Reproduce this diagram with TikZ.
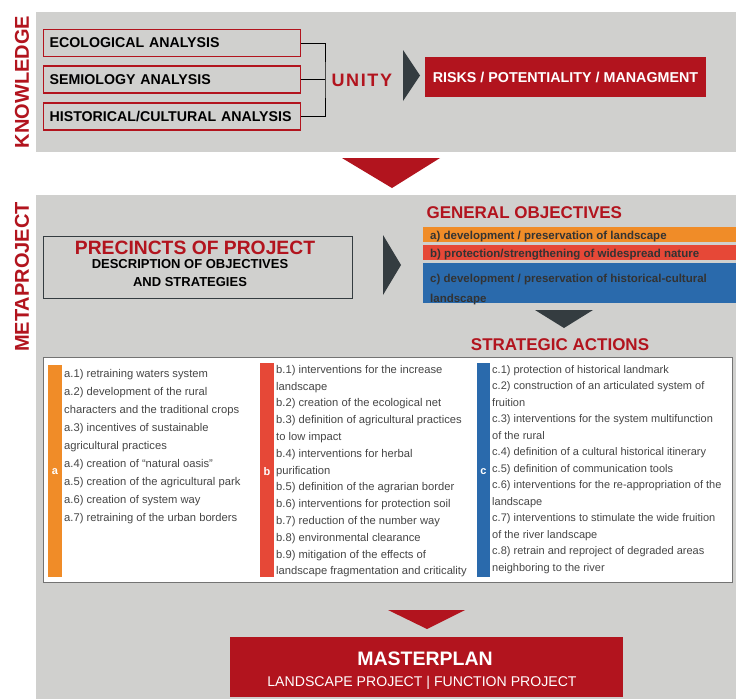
\documentclass[tikz,border=0pt]{standalone}
\usepackage{fontspec}
\setmainfont{Liberation Sans}
\usetikzlibrary{positioning}
\definecolor{panelgray}{RGB}{208,208,206}
\definecolor{krred}{RGB}{178,20,30}
\definecolor{barorange}{RGB}{240,140,40}
\definecolor{barred}{RGB}{230,72,55}
\definecolor{barblue}{RGB}{42,106,172}
\definecolor{darktri}{RGB}{52,60,64}
\definecolor{acttext}{RGB}{70,70,70}
\tikzset{>=latex}

\begin{document}
\begin{tikzpicture}[x=1pt,y=-1pt,
  anbox/.style={draw=krred,line width=1.2pt,fill=panelgray,anchor=west,minimum height=27pt,
    text width=245pt,inner xsep=6pt,align=left,font=\fontsize{14.2}{15}\selectfont\bfseries},
  sidelbl/.style={rotate=90,text=krred,font=\fontsize{20}{20}\selectfont\bfseries},
  bartext/.style={anchor=west,inner sep=0pt,text=black!80,align=left,font=\fontsize{11.5}{20}\selectfont\bfseries},
  acts/.style={anchor=north west,inner sep=0pt,align=left,text=acttext},
  heading/.style={text=krred,font=\fontsize{17}{17}\selectfont\bfseries},
  stripeletter/.style={text=white,font=\fontsize{11}{11}\selectfont\bfseries}]
\useasboundingbox (0,0) rectangle (736,699);
\fill[white] (0,0) rectangle (736,699);

% knowledge
\fill[panelgray] (36,12) rectangle (736,152);
\node[sidelbl] (lblknow) at (22,82) {KNOWLEDGE};
\node[anbox] (eco) at (43,43) {ECOLOGICAL ANALYSIS};
\node[anbox] (sem) at (43,79.5) {SEMIOLOGY ANALYSIS};
\node[anbox] (his) at (43,116.5) {HISTORICAL/CULTURAL ANALYSIS};
\coordinate (brk) at (325,80);
\draw[line width=1pt] (eco.east) -| (brk) |- (his.east);
\draw[line width=1pt] (sem.east) -- (sem.east -| brk);
\node[anchor=west,text=krred,font=\fontsize{18}{18}\selectfont\bfseries\addfontfeatures{LetterSpace=9}] (unity) at (328,80) {UNITY};
\fill[darktri] (403,50) -- (420,75.5) -- (403,101) -- cycle;
\node[fill=krred,text=white,minimum width=281pt,minimum height=40pt,font=\fontsize{14.3}{15}\selectfont\bfseries] (risks) at (565.5,77) {RISKS / POTENTIALITY / MANAGMENT};

\fill[krred] (342,158) -- (440,158) -- (392,188) -- cycle;

% metaproject
\fill[panelgray] (36,195) rectangle (736,699);
\node[sidelbl] (lblmeta) at (22,277) {METAPROJECT};
\node[draw=darktri,line width=1pt,fill=panelgray,minimum width=309pt,minimum height=62pt] (prec) at (197.5,267) {};
\node[text=krred,inner sep=0pt,font=\fontsize{19.3}{19}\selectfont\bfseries] (prectitle) at (195,248) {PRECINCTS OF PROJECT};
\node[anchor=north,inner sep=0pt,align=center,font=\fontsize{13}{18}\selectfont\bfseries] (precdesc) at (190,259) {DESCRIPTION OF OBJECTIVES\\AND STRATEGIES};
\fill[darktri] (383,235) -- (401,265) -- (383,295) -- cycle;

\node[heading,anchor=west] (genobj) at (423,213) {GENERAL OBJECTIVES};
\fill[barorange] (423,227) rectangle (736,242);
\fill[barred] (423,245) rectangle (736,260);
\fill[barblue] (423,263) rectangle (736,303);
\node[bartext] (obja) at (430,236.5) {a) development / preservation of landscape};
\node[bartext] (objb) at (430,254.5) {b) protection/strengthening of widespread nature};
\node[bartext,anchor=north west] (objc) at (430,274) {c) development / preservation of historical-cultural\\landscape};
\fill[darktri] (535,310) -- (593,310) -- (564,328) -- cycle;
\node[heading] (stract) at (560,345) {STRATEGIC ACTIONS};

% strategic actions
\draw[fill=white,draw=black!55,line width=1pt] (43,357) rectangle (732,582);
\fill[barorange] (48,365) rectangle (62,577);
\fill[barred] (260,363) rectangle (274,577);
\fill[barblue] (477,363) rectangle (490,577);
\node[stripeletter] (la) at (55,472) {a};
\node[stripeletter] (lb) at (267,472) {b};
\node[stripeletter] (lc) at (483.5,472) {c};
\node[acts,font=\fontsize{11.2}{18}\selectfont] (acta) at (64,369) {a.1) retraining waters system\\
a.2) development of the rural\\
characters and the traditional crops\\
a.3) incentives of sustainable\\
agricultural practices\\
a.4) creation of ``natural oasis''\\
a.5) creation of the agricultural park\\
a.6) creation of system way\\
a.7) retraining of the urban borders};
\node[acts,font=\fontsize{11.2}{16.8}\selectfont] (actb) at (276,365) {b.1) interventions for the increase\\
landscape\\
b.2) creation of the ecological net\\
b.3) definition of agricultural practices\\
to low impact\\
b.4) interventions for herbal\\
purification\\
b.5) definition of the agrarian border\\
b.6) interventions for protection soil\\
b.7) reduction of the number way\\
b.8) environmental clearance\\
b.9) mitigation of the effects of\\
landscape fragmentation and criticality};
\node[acts,font=\fontsize{11}{16.5}\selectfont] (actc) at (492,365) {c.1) protection of historical landmark\\
c.2) construction of an articulated system of\\
fruition\\
c.3) interventions for the system multifunction\\
of the rural\\
c.4) definition of a cultural historical itinerary\\
c.5) definition of communication tools\\
c.6) interventions for the re-appropriation of the\\
landscape\\
c.7) interventions to stimulate the wide fruition\\
of the river landscape\\
c.8) retrain and reproject of degraded areas\\
neighboring to the river};

% masterplan
\fill[krred] (388,610) -- (465,610) -- (427,629) -- cycle;
\node[fill=krred,minimum width=393pt,minimum height=60pt] (master) at (426.5,667) {};
\node[text=white,font=\fontsize{19.5}{20}\selectfont\bfseries] (mastertitle) at (425,659) {MASTERPLAN};
\node[text=white,font=\fontsize{14.1}{15}\selectfont] (mastersub) at (422,683) {LANDSCAPE PROJECT | FUNCTION PROJECT};
\end{tikzpicture}
\end{document}
